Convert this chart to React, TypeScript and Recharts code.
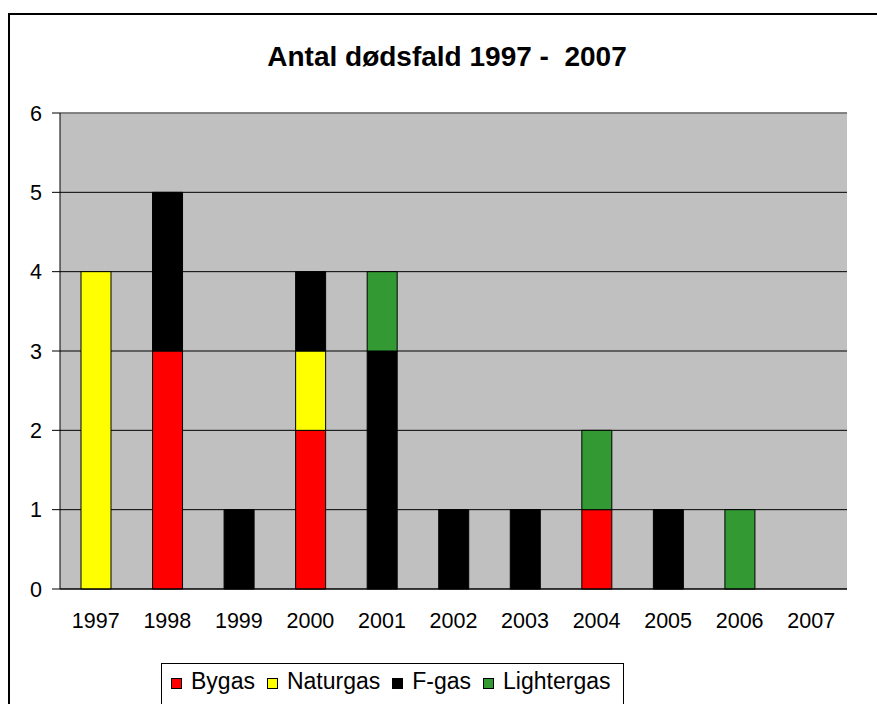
import React from "react"
import { BarChart, Bar, XAxis, YAxis, CartesianGrid, ReferenceLine } from "recharts"

const years = ["1997", "1998", "1999", "2000", "2001", "2002", "2003", "2004", "2005", "2006", "2007"]
const bygas = [0, 3, 0, 2, 0, 0, 0, 1, 0, 0, 0]
const naturgas = [4, 0, 0, 1, 0, 0, 0, 0, 0, 0, 0]
const fgas = [0, 2, 1, 1, 3, 1, 1, 0, 1, 0, 0]
const lightergas = [0, 0, 0, 0, 1, 0, 0, 1, 0, 1, 0]
const yTicks = [0, 1, 2, 3, 4, 5, 6]

const series = [
  { key: "Bygas", values: bygas, color: "#FF0000" },
  { key: "Naturgas", values: naturgas, color: "#FFFF00" },
  { key: "F-gas", values: fgas, color: "#000000" },
  { key: "Lightergas", values: lightergas, color: "#339933" },
]

const data = years.map((year, i) => {
  const row: Record<string, any> = { year }
  series.forEach((s) => (row[s.key] = s.values[i]))
  return row
})

// tick marks sit between the categories, so a number axis carries them
const boundaryTicks = [...years.map((_, i) => i), years.length]

const FONT = '"Liberation Sans", Arial, sans-serif'

export default function App() {
  return (
    <div style={{ position: "relative", width: 877, height: 704, overflow: "hidden", background: "#fff", fontFamily: FONT }}>
      <style>{`html,body{margin:0;overflow:hidden}`}</style>
      {/* outer frame runs off the right and bottom edges */}
      <div
        style={{
          position: "absolute",
          left: 8,
          top: 13,
          width: 1400,
          height: 1400,
          borderLeft: "2px solid #000",
          borderTop: "2px solid #000",
          boxSizing: "border-box",
        }}
      />
      <div
        style={{
          position: "absolute",
          left: 0,
          top: 43,
          width: 894,
          textAlign: "center",
          fontSize: 28,
          lineHeight: "28px",
          fontWeight: "bold",
          whiteSpace: "pre",
          color: "#000",
        }}
      >
        {"Antal dødsfald 1997 -  2007"}
      </div>
      <div style={{ position: "absolute", left: 0, top: 0 }}>
        <BarChart width={877} height={704} data={data} margin={{ top: 113, right: 30, left: 0, bottom: 75 }}>
          <CartesianGrid vertical={false} stroke="#000" fill="#C0C0C0" />
          <XAxis
            xAxisId={0}
            type="number"
            domain={[0, years.length]}
            ticks={boundaryTicks}
            allowDataOverflow
            height={0}
            tick={false}
            axisLine={false}
            tickLine={{ stroke: "#000" }}
            tickSize={7}
          />
          <XAxis
            xAxisId={1}
            dataKey="year"
            height={40}
            tickLine={false}
            tickSize={6}
            tickMargin={18}
            axisLine={{ stroke: "#000" }}
            tick={{ fill: "#000", fontSize: 21.5, fontFamily: FONT }}
            interval={0}
          />
          <YAxis
            width={60}
            domain={[0, 6]}
            ticks={yTicks}
            allowDecimals={false}
            tickSize={8}
            tickMargin={10}
            axisLine={{ stroke: "#000" }}
            tickLine={{ stroke: "#000" }}
            tick={{ fill: "#000", fontSize: 21.5, fontFamily: FONT }}
          />
          <ReferenceLine xAxisId={0} y={6} stroke="#888" strokeWidth={1.5} />
          <ReferenceLine xAxisId={0} x={years.length} stroke="#888" strokeWidth={1.5} />
          {series.map((s) => (
            <Bar
              key={s.key}
              xAxisId={1}
              dataKey={s.key}
              stackId="a"
              fill={s.color}
              stroke="#000"
              strokeWidth={1}
              barSize={30}
              isAnimationActive={false}
            />
          ))}
        </BarChart>
      </div>
      <div
        style={{
          position: "absolute",
          left: 161,
          top: 663,
          width: 463,
          height: 100,
          border: "1px solid #000",
          boxSizing: "border-box",
          paddingTop: 4,
          paddingLeft: 9,
          fontSize: 23,
          lineHeight: "26px",
          whiteSpace: "nowrap",
          color: "#000",
        }}
      >
        {series.map((s) => (
          <span key={s.key} style={{ marginRight: 12 }}>
            <span
              style={{
                display: "inline-block",
                width: 11,
                height: 11,
                background: s.color,
                border: "1px solid #000",
                boxSizing: "border-box",
                marginRight: 9,
                verticalAlign: "baseline",
              }}
            />
            {s.key}
          </span>
        ))}
      </div>
    </div>
  )
}
